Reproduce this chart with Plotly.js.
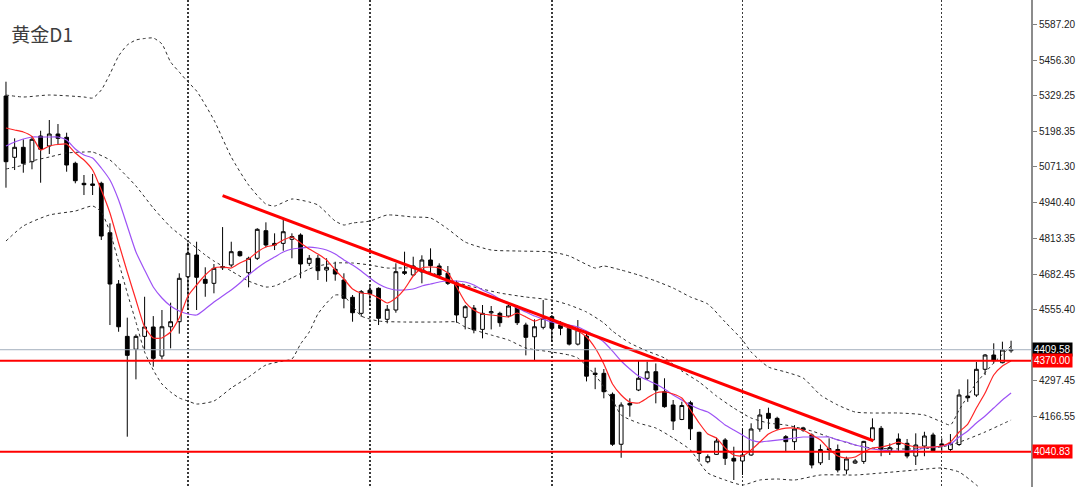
<!DOCTYPE html>
<html>
<head>
<meta charset="utf-8">
<script src="https://cdn.plot.ly/plotly-3.0.1.min.js"></script>
<style>
  html, body { margin: 0; padding: 0; background: #ffffff; }
  #chart { width: 1080px; height: 487px; }
</style>
</head>
<body>
<div id="chart"></div>
<script>
// ---- Candles (daily gold, oldest -> newest) ----
const opens = [5326.9,5105.3,5141.4,5089.4,5182.3,5146.1,5189.5,5177.6,5083.6,5011.3,5009.0,5011.3,4832.6,4647.2,4457.9,4411.2,4457.9,4491.8,4386.8,4492.6,4510.9,4673.5,4752.0,4664.1,4649.7,4706.0,4715.9,4764.0,4688.1,4740.1,4839.9,4794.0,4794.1,4808.8,4824.3,4722.0,4740.1,4697.8,4700.3,4661.6,4599.1,4541.2,4625.0,4631.6,4519.6,4553.2,4691.7,4679.8,4691.0,4734.0,4712.3,4685.9,4649.7,4526.8,4560.1,4483.2,4543.0,4541.2,4531.4,4565.1,4498.9,4456.4,4490.6,4529.0,4498.9,4487.0,4429.9,4459.0,4325.0,4324.3,4248.4,4067.8,4215.8,4263.9,4306.4,4330.1,4257.8,4209.7,4157.4,4217.8,4111.0,4004.7,4031.3,4083.2,4017.0,4007.2,4029.0,4123.0,4179.6,4161.5,4095.2,4077.2,4127.0,4101.3,4000.8,4052.0,4048.9,3974.7,3999.9,4005.8,4083.2,4125.4,4043.4,4086.9,4071.3,4025.3,4061.4,4101.3,4069.0,4048.9,4066.9,4242.0,4245.8,4338.8,4390.5,4362.7,4406.0];
const highs = [5378.6,5173.9,5170.3,5182.3,5201.4,5240.1,5225.6,5194.2,5089.4,5041.3,5045.0,5017.0,4866.6,4661.6,4525.5,4465.1,4601.1,4531.2,4553.2,4579.6,4685.9,4796.5,4800.1,4707.6,4719.5,4853.0,4800.1,4767.6,4745.9,4849.0,4870.2,4830.4,4881.1,4830.4,4830.4,4752.0,4752.0,4740.1,4727.8,4685.9,4607.4,4625.5,4640.0,4635.2,4571.3,4722.0,4764.0,4745.9,4751.0,4776.2,4722.0,4712.3,4659.2,4571.3,4571.3,4571.3,4567.6,4547.0,4571.3,4571.3,4507.3,4519.6,4589.3,4535.0,4513.0,4498.9,4517.0,4467.6,4344.6,4339.8,4255.0,4219.4,4233.9,4368.8,4366.6,4360.0,4306.4,4227.8,4221.6,4225.0,4113.0,4031.0,4091.3,4090.0,4059.0,4125.0,4143.6,4195.2,4200.0,4167.4,4101.0,4137.0,4131.0,4107.0,4066.9,4089.3,4066.9,4023.0,4014.6,4080.0,4161.5,4134.0,4071.0,4107.0,4086.9,4107.3,4113.0,4109.5,4089.0,4104.7,4266.5,4302.5,4365.1,4394.0,4432.8,4438.6,4442.2];
const lows = [4995.4,5059.3,5049.6,5061.9,5013.4,5117.2,5149.7,5053.2,5011.3,4968.9,4969.0,4806.3,4498.9,4474.6,4095.2,4302.5,4408.4,4348.2,4374.8,4414.7,4467.6,4553.2,4553.2,4601.1,4613.6,4697.8,4707.6,4746.0,4635.2,4734.0,4779.9,4770.0,4767.6,4740.1,4667.8,4712.3,4661.6,4655.5,4659.2,4559.3,4510.9,4529.0,4570.0,4498.9,4505.1,4543.4,4679.8,4676.0,4649.7,4679.8,4667.8,4643.6,4507.3,4483.2,4469.0,4450.8,4483.0,4492.6,4526.8,4498.9,4389.2,4372.4,4483.2,4438.5,4462.0,4425.0,4425.0,4295.0,4267.0,4233.9,4062.0,4019.0,4167.4,4260.0,4300.0,4215.8,4200.0,4119.3,4155.0,4083.2,4004.7,3999.0,4029.0,3993.0,3938.6,3956.6,4026.0,4113.0,4123.0,4119.0,4043.4,4047.0,4113.0,3980.8,3992.8,4010.9,3966.0,3959.0,3997.0,3997.0,4077.0,4024.6,4029.0,4041.0,4017.0,3992.8,4024.6,4040.8,4044.0,4041.0,4062.0,4221.0,4239.0,4318.0,4360.4,4360.4,4398.8];
const closes = [5089.4,5141.4,5083.6,5170.3,5134.2,5189.5,5173.9,5077.4,5020.6,5006.2,5004.0,4820.7,4647.2,4492.6,4389.2,4457.9,4491.8,4378.5,4492.6,4510.9,4667.8,4758.2,4671.4,4649.7,4703.9,4710.0,4764.0,4749.5,4740.1,4844.9,4788.2,4788.0,4836.2,4818.8,4719.5,4740.1,4695.3,4707.6,4683.3,4595.5,4543.4,4619.4,4612.0,4523.2,4555.8,4691.7,4685.9,4712.3,4734.0,4713.4,4679.8,4649.7,4535.1,4565.1,4481.6,4541.2,4547.0,4507.3,4567.6,4507.3,4454.4,4492.6,4523.2,4487.0,4487.0,4429.9,4481.5,4314.0,4320.0,4257.8,4067.8,4209.7,4209.7,4306.4,4330.1,4263.9,4203.6,4151.8,4207.9,4123.7,4034.9,4022.9,4079.4,4017.0,4007.0,4029.0,4123.0,4173.6,4161.5,4125.4,4077.2,4123.0,4119.0,3992.8,4048.9,4048.0,3974.7,4014.6,4007.5,4078.2,4127.6,4048.9,4055.6,4067.8,4025.3,4065.1,4097.6,4044.4,4063.0,4071.3,4245.8,4236.0,4338.8,4390.5,4369.9,4408.5,4409.58];

// ---- Fast moving average (red), one value per candle ----
const maFast = [5211.2,5203.9,5196.7,5180.5,5131.6,5146.1,5151.5,5153.3,5120.8,5095.5,5059.3,4987.0,4903.9,4795.4,4690.5,4589.3,4491.7,4451.9,4451.9,4473.6,4524.3,4603.8,4643.6,4679.7,4705.0,4708.6,4705.0,4723.1,4737.6,4762.9,4781.0,4788.2,4806.3,4817.1,4795.4,4773.7,4755.6,4734.0,4697.8,4665.2,4629.1,4614.6,4611.0,4596.6,4578.5,4596.6,4629.1,4676.1,4705.0,4708.6,4705.0,4686.9,4636.3,4582.1,4553.2,4538.7,4535.1,4531.5,4527.9,4542.3,4527.9,4513.4,4524.3,4517.0,4498.9,4488.1,4477.2,4455.5,4415.8,4357.9,4285.6,4245.9,4220.5,4216.9,4235.0,4253.1,4256.7,4249.4,4235.0,4191.6,4144.6,4104.8,4090.4,4054.2,4028.9,4025.3,4047.0,4075.9,4104.8,4119.3,4126.5,4126.5,4119.3,4101.2,4083.1,4050.6,4025.3,4018.0,4021.6,4039.8,4054.2,4057.8,4065.0,4075.9,4065.0,4057.8,4057.8,4057.8,4061.4,4075.9,4112.1,4141.0,4198.8,4253.1,4318.2,4350.7,4368.8];

// ---- Slow moving average (purple), one value per candle ----
const maSlow = [5146.1,5160.6,5171.4,5178.6,5178.6,5178.6,5178.6,5167.8,5135.2,5113.6,5102.7,5066.6,5023.2,4950.9,4856.9,4762.9,4697.8,4636.3,4596.6,4567.6,4549.5,4538.7,4535.1,4556.8,4582.1,4603.8,4625.5,4650.8,4679.7,4705.0,4726.7,4744.8,4762.9,4773.7,4777.3,4780.9,4777.3,4770.1,4755.6,4734.0,4715.9,4694.2,4668.9,4647.2,4632.7,4625.5,4625.5,4629.1,4640.0,4647.2,4654.4,4658.0,4658.0,4654.4,4643.6,4625.5,4611.0,4593.0,4578.5,4560.4,4546.0,4531.5,4520.6,4509.8,4502.5,4498.9,4491.7,4477.2,4459.1,4437.4,4404.9,4368.8,4339.8,4314.6,4300.1,4285.6,4267.6,4245.9,4227.8,4209.7,4195.2,4184.4,4162.7,4137.4,4119.3,4101.2,4083.1,4075.9,4079.5,4083.1,4086.7,4090.4,4094.0,4094.0,4094.0,4094.0,4083.1,4075.9,4065.0,4057.8,4050.6,4047.0,4043.4,4043.4,4043.4,4047.0,4054.2,4057.8,4061.4,4068.6,4094.0,4115.7,4144.6,4169.9,4198.8,4227.8,4253.1];

// ---- Bollinger bands, read at selected candles ----
const upperIdx = [0,2,5,9,10,11,12,13,14,15,16,17,18,19,20,21,22,24,26,28,30,31,33,35,36,38,39,40,42,44,47,49,51,53,56,59,63,65,68,69,71,73,75,77,79,81,83,85,86,88,90,92,94,96,98,100,103,106,108,109,110,112,114,116];
const upperBand = [5330.5,5323.3,5330.5,5323.3,5319.6,5348.6,5406.4,5471.5,5511.3,5529.4,5534.8,5536.6,5515.0,5449.8,5413.6,5377.5,5345.0,5240.1,5106.4,5005.1,4936.4,4929.2,4954.5,4943.6,4932.8,4874.9,4860.5,4867.7,4874.9,4896.6,4889.4,4885.8,4846.1,4799.0,4770.1,4766.5,4762.9,4748.4,4705.0,4712.2,4697.8,4679.7,4658.0,4632.7,4600.2,4574.9,4509.8,4444.7,4401.3,4347.1,4329.0,4307.3,4245.9,4209.7,4184.4,4180.8,4180.8,4173.6,4148.3,4137.4,4191.6,4289.3,4361.6,4423.0];

const middleIdx = [0,2,3,5,7,9,10,12,13,15,17,19,21,23,24,26,28,30,31,33,35,36,38,40,42,44,47,49,51,54,57,60,63,65,67,69,70,72,74,76,78,80,82,84,86,88,90,93,95,98,100,104,107,109,111,113,115,116];
const middleBand = [5063.0,5077.4,5091.9,5106.3,5120.8,5124.4,5124.4,5095.5,5066.6,5001.5,4921.9,4853.2,4802.6,4752.0,4730.3,4694.2,4658.0,4636.3,4640.0,4668.9,4701.4,4712.2,4723.1,4723.1,4715.9,4705.0,4705.0,4690.5,4661.6,4636.3,4614.6,4600.2,4589.3,4571.3,4546.0,4506.2,4477.2,4433.8,4404.9,4379.6,4332.6,4293.0,4242.2,4198.8,4162.7,4144.6,4137.4,4115.7,4094.0,4065.0,4054.2,4050.6,4054.2,4065.0,4086.7,4112.1,4141.0,4155.5];

const lowerIdx = [0,2,5,8,10,11,12,13,14,15,16,17,18,19,20,21,22,24,26,28,30,32,33,34,35,36,37,38,39,40,41,43,46,50,52,53,56,58,60,63,65,66,68,70,71,73,75,77,79,80,81,83,85,87,89,91,94,98,101,105,108,110,112,114,116];
const lowerBand = [4802.6,4856.9,4896.6,4911.1,4929.2,4907.5,4835.2,4726.7,4614.6,4509.8,4401.3,4336.2,4285.6,4256.7,4235.0,4224.2,4213.3,4224.2,4271.2,4310.9,4354.3,4368.8,4376.0,4430.3,4473.6,4538.7,4578.5,4607.4,4603.8,4567.6,4531.5,4513.4,4509.8,4509.8,4509.8,4491.7,4462.8,4444.7,4415.8,4401.3,4390.5,4379.6,4318.2,4227.8,4173.6,4144.6,4126.5,4090.4,4047.0,4003.6,3963.9,3938.6,3920.5,3938.6,3942.2,3938.6,3956.6,3956.6,3963.9,3974.7,3981.9,3967.5,3920.5,3866.2,3812.0];

// ---- Drawn objects ----
const trendX = [25.0, 100.1];
const trendY = [4966.4, 4080.6];
const levels = [4370.00, 4040.83];
const lastPrice = 4409.58;

// ---- Axis ----
const yTicks = [5587.20,5456.30,5329.25,5198.35,5071.30,4940.40,4813.35,4682.45,4555.40,4297.45,4166.55,3908.60];
const periodSeparators = [21, 42, 63, 85, 108];

const idx = opens.map((_, i) => i);

const bandStyle = {color: '#2e2e2e', width: 1, dash: '3px,3px', shape: 'spline', smoothing: 0.6};

const traces = [
  {
    type: 'candlestick', x: idx, open: opens, high: highs, low: lows, close: closes,
    increasing: {line: {color: '#000000', width: 1}, fillcolor: '#ffffff'},
    decreasing: {line: {color: '#000000', width: 1}, fillcolor: '#000000'},
    whiskerwidth: 0, hoverinfo: 'skip'
  },
  {type: 'scatter', mode: 'lines', x: upperIdx, y: upperBand, line: bandStyle, hoverinfo: 'skip'},
  {type: 'scatter', mode: 'lines', x: middleIdx, y: middleBand, line: bandStyle, hoverinfo: 'skip'},
  {type: 'scatter', mode: 'lines', x: lowerIdx, y: lowerBand, line: bandStyle, hoverinfo: 'skip'},
  {type: 'scatter', mode: 'lines', x: idx, y: maSlow, line: {color: '#9d52f5', width: 1.2, shape: 'spline', smoothing: 0.5}, hoverinfo: 'skip'},
  {type: 'scatter', mode: 'lines', x: idx, y: maFast, line: {color: '#ff2626', width: 1.2, shape: 'spline', smoothing: 0.5}, hoverinfo: 'skip'},
  {type: 'scatter', mode: 'lines', x: trendX, y: trendY, line: {color: '#ff0000', width: 3}, hoverinfo: 'skip'}
];

const shapes = [
  {type: 'line', xref: 'paper', x0: 0, x1: 1, yref: 'y', y0: lastPrice, y1: lastPrice,
   line: {color: '#a3afbd', width: 1}, layer: 'above'}
].concat(levels.map(v => ({
  type: 'line', xref: 'paper', x0: 0, x1: 1, yref: 'y', y0: v, y1: v,
  line: {color: '#ff0000', width: 2}, layer: 'above'
})));

const labelFont = {family: 'Liberation Sans, Arial, sans-serif', size: 10, color: '#ffffff'};
const annotations = [
  {xref: 'paper', x: 1, xanchor: 'left', xshift: 1, yref: 'y', y: lastPrice, yanchor: 'middle',
   text: lastPrice.toFixed(2), showarrow: false, bgcolor: '#000000', font: labelFont, borderpad: 1}
].concat(levels.map(v => ({
  xref: 'paper', x: 1, xanchor: 'left', xshift: 1, yref: 'y', y: v, yanchor: 'middle',
  text: v.toFixed(2), showarrow: false, bgcolor: '#ff0000', font: labelFont, borderpad: 1
})));

const layout = {
  width: 1080, height: 487,
  margin: {l: 0, r: 49, t: 0, b: 0, pad: 0},
  paper_bgcolor: '#ffffff', plot_bgcolor: '#ffffff',
  showlegend: false,
  boxgap: 0.38,
  title: {
    text: '黄金D1', x: 0.011, xanchor: 'left', xref: 'paper',
    y: 0.928, yanchor: 'middle', yref: 'container',
    font: {family: 'Noto Sans CJK SC, Noto Sans, sans-serif', size: 19, color: '#3d3d3d'}
  },
  xaxis: {
    range: [-0.69, 118.3], rangeslider: {visible: false},
    tickmode: 'array', tickvals: periodSeparators, showticklabels: false, ticks: '',
    showgrid: true, gridcolor: '#3a3a3a', gridwidth: 1.4, griddash: '2px,2px',
    zeroline: false, showline: false, fixedrange: true
  },
  yaxis: {
    side: 'right', range: [3913.3, 5674.0],
    tickmode: 'array', tickvals: yTicks, tickformat: '.2f',
    tickfont: {family: 'Liberation Sans, Arial, sans-serif', size: 10, color: '#222222'},
    ticks: 'outside', ticklen: 4, tickcolor: '#808080', tickwidth: 1,
    showline: true, linecolor: '#8c8c8c', linewidth: 2,
    showgrid: false, zeroline: false, fixedrange: true
  },
  shapes: shapes,
  annotations: annotations
};

Plotly.newPlot('chart', traces, layout, {displayModeBar: false, staticPlot: true});
</script>
</body>
</html>
